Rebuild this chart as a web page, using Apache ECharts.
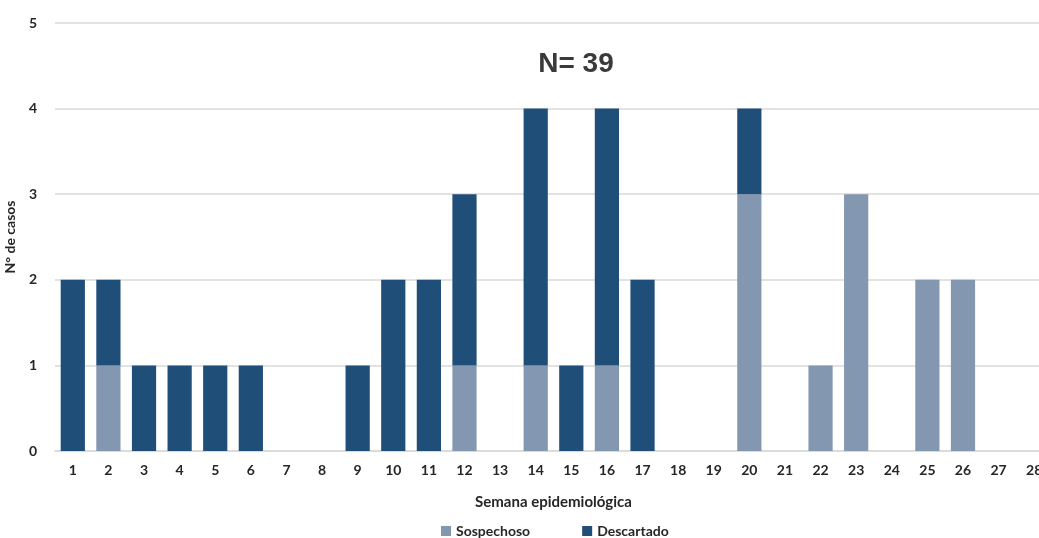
<!DOCTYPE html>
<html>
<head>
<meta charset="utf-8">
<script src="https://cdn.jsdelivr.net/npm/echarts@6/dist/echarts.min.js"></script>
<style>html,body{margin:0;padding:0;background:#fff;}#c{width:1039px;height:538px;}</style>
</head>
<body>
<div id="c"></div>
<script>
const weeks = ['1','2','3','4','5','6','7','8','9','10','11','12','13','14','15','16','17','18','19','20','21','22','23','24','25','26','27','28'];
const sospechoso = [0,1,0,0,0,0,0,0,0,0,0,1,0,1,0,1,0,0,0,3,0,1,3,0,2,2,0,0];
const descartado = [2,1,1,1,1,1,0,0,1,2,2,2,0,3,1,3,2,0,0,1,0,0,0,0,0,0,0,0];
const yTicks = [0,1,2,3,4,5];

const font = 'Lato, "Open Sans", sans-serif';
const chart = echarts.init(document.getElementById('c'));
chart.setOption({
  animation: false,
  title: {
    text: 'N= 39', left: 571, top: 45, textAlign: 'center',
    textStyle: {fontFamily: 'Liberation Sans, Arial, sans-serif', fontWeight: 'bold', fontSize: 28, color: '#3a3a3a'}
  },
  grid: {left: 55, width: 997, top: 23, height: 428, containLabel: false, outerBoundsMode: 'none'},
  legend: {
    top: 519, left: 436, itemGap: 52, itemWidth: 10, itemHeight: 10, icon: 'rect',
    textStyle: {fontFamily: font, fontWeight: 'bold', fontSize: 14, color: '#262626'},
    data: ['Sospechoso', 'Descartado']
  },
  xAxis: {
    type: 'category', data: weeks,
    name: 'Semana epidemiológica', nameLocation: 'middle', nameGap: 44,
    nameTextStyle: {fontFamily: font, fontWeight: 'bold', fontSize: 15, color: '#262626'},
    axisLine: {lineStyle: {color: '#d9d9d9', width: 1.5}},
    axisTick: {show: false},
    axisLabel: {fontFamily: font, fontWeight: 'bold', fontSize: 14, color: '#262626', margin: 12, interval: 0}
  },
  yAxis: {
    type: 'value', min: 0, max: 5, interval: 1,
    name: 'N° de casos', nameLocation: 'middle', nameGap: 35, nameRotate: 90,
    nameTextStyle: {fontFamily: font, fontWeight: 'bold', fontSize: 14, color: '#262626'},
    axisLine: {show: false}, axisTick: {show: false},
    axisLabel: {fontFamily: font, fontWeight: 'bold', fontSize: 14, color: '#262626', margin: 18,
      formatter: v => yTicks.includes(v) ? String(v) : ''},
    splitLine: {lineStyle: {color: '#d9d9d9', width: 1.5}}
  },
  series: [
    {name: 'Sospechoso', type: 'bar', stack: 's', data: sospechoso, barCategoryGap: '32%',
     itemStyle: {color: '#8497b0'}},
    {name: 'Descartado', type: 'bar', stack: 's', data: descartado, barCategoryGap: '32%',
     itemStyle: {color: '#1f4e79'}}
  ]
});
</script>
</body>
</html>
